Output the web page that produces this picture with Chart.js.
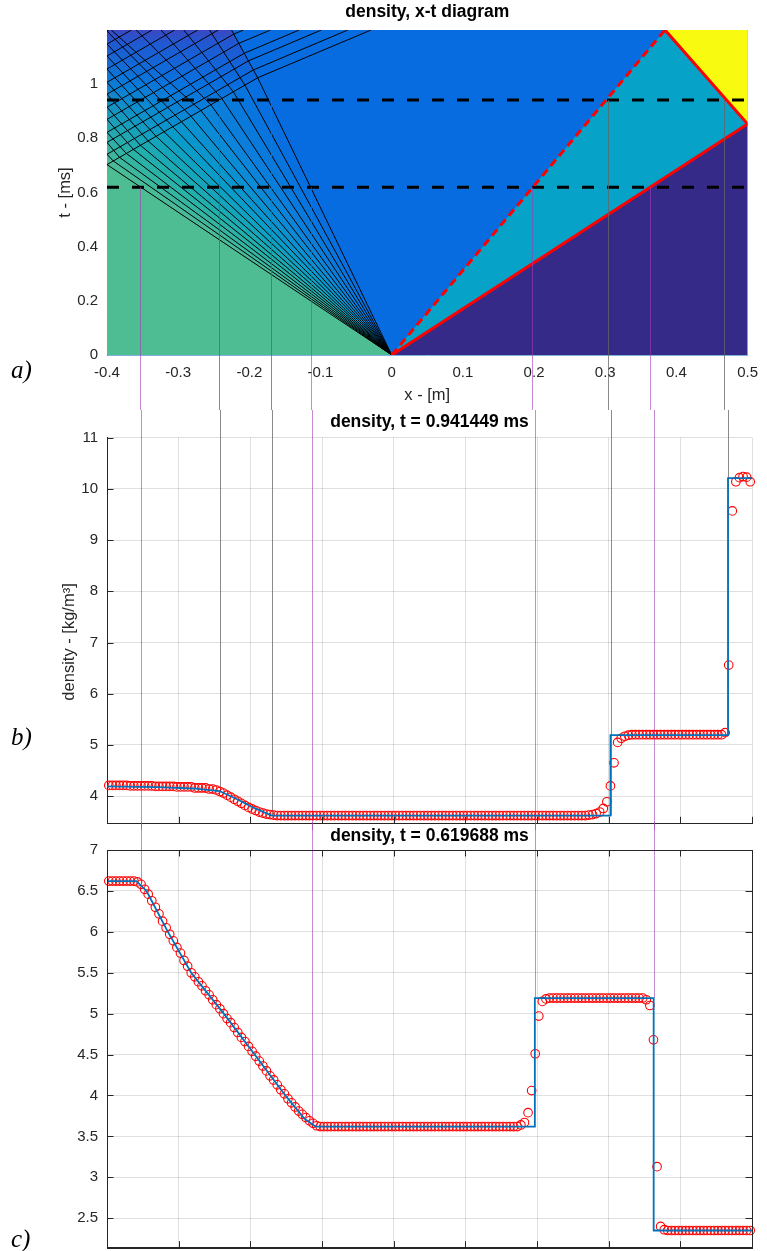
<!DOCTYPE html>
<html><head><meta charset="utf-8">
<script src="https://cdn.jsdelivr.net/npm/chart.js@4.4.0/dist/chart.umd.min.js"></script>
<style>
html,body{margin:0;padding:0;background:#fff;}
body{width:767px;height:1251px;position:relative;overflow:hidden;}
canvas{position:absolute;left:0;}
.lab{position:absolute;font-family:'Liberation Serif','DejaVu Serif',serif;font-style:italic;font-size:25px;color:#000;line-height:30px;}
</style></head><body>
<canvas id="ca" width="767" height="410" style="top:0;width:767px;height:410px"></canvas>
<canvas id="cb" width="767" height="420" style="top:410px;width:767px;height:420px"></canvas>
<canvas id="cc" width="767" height="429" style="top:822px;width:767px;height:429px"></canvas>
<div class="lab" style="left:11px;top:355px">a)</div>
<div class="lab" style="left:11px;top:722px">b)</div>
<div class="lab" style="left:11px;top:1224px">c)</div>
<script>
// ===================== DATA =====================
const xCells = [
-0.3975,-0.3925,-0.3875,-0.3825,-0.3775,-0.3725,-0.3675,-0.3625,-0.3575,-0.3525,
-0.3475,-0.3425,-0.3375,-0.3325,-0.3275,-0.3225,-0.3175,-0.3125,-0.3075,-0.3025,
-0.2975,-0.2925,-0.2875,-0.2825,-0.2775,-0.2725,-0.2675,-0.2625,-0.2575,-0.2525,
-0.2475,-0.2425,-0.2375,-0.2325,-0.2275,-0.2225,-0.2175,-0.2125,-0.2075,-0.2025,
-0.1975,-0.1925,-0.1875,-0.1825,-0.1775,-0.1725,-0.1675,-0.1625,-0.1575,-0.1525,
-0.1475,-0.1425,-0.1375,-0.1325,-0.1275,-0.1225,-0.1175,-0.1125,-0.1075,-0.1025,
-0.0975,-0.0925,-0.0875,-0.0825,-0.0775,-0.0725,-0.0675,-0.0625,-0.0575,-0.0525,
-0.0475,-0.0425,-0.0375,-0.0325,-0.0275,-0.0225,-0.0175,-0.0125,-0.0075,-0.0025,
0.0025,0.0075,0.0125,0.0175,0.0225,0.0275,0.0325,0.0375,0.0425,0.0475,
0.0525,0.0575,0.0625,0.0675,0.0725,0.0775,0.0825,0.0875,0.0925,0.0975,
0.1025,0.1075,0.1125,0.1175,0.1225,0.1275,0.1325,0.1375,0.1425,0.1475,
0.1525,0.1575,0.1625,0.1675,0.1725,0.1775,0.1825,0.1875,0.1925,0.1975,
0.2025,0.2075,0.2125,0.2175,0.2225,0.2275,0.2325,0.2375,0.2425,0.2475,
0.2525,0.2575,0.2625,0.2675,0.2725,0.2775,0.2825,0.2875,0.2925,0.2975,
0.3025,0.3075,0.3125,0.3175,0.3225,0.3275,0.3325,0.3375,0.3425,0.3475,
0.3525,0.3575,0.3625,0.3675,0.3725,0.3775,0.3825,0.3875,0.3925,0.3975,
0.4025,0.4075,0.4125,0.4175,0.4225,0.4275,0.4325,0.4375,0.4425,0.4475,
0.4525,0.4575,0.4625,0.4675,0.4725,0.4775,0.4825,0.4875,0.4925,0.4975];

// numerical density at t = 0.941449 ms (red circles, panel b)
const rhoNumB = [
4.21,4.21,4.21,4.21,4.21,4.21,4.20,4.20,4.20,4.20,
4.20,4.20,4.20,4.19,4.19,4.19,4.19,4.19,4.19,4.18,
4.18,4.18,4.18,4.18,4.16,4.16,4.16,4.16,4.14,4.14,
4.12,4.09,4.06,4.02,3.98,3.94,3.90,3.86,3.82,3.78,
3.75,3.72,3.69,3.67,3.65,3.64,3.63,3.62,3.62,3.62,
3.62,3.62,3.62,3.62,3.62,3.62,3.62,3.62,3.62,3.62,
3.62,3.62,3.62,3.62,3.62,3.62,3.62,3.62,3.62,3.62,
3.62,3.62,3.62,3.62,3.62,3.62,3.62,3.62,3.62,3.62,
3.62,3.62,3.62,3.62,3.62,3.62,3.62,3.62,3.62,3.62,
3.62,3.62,3.62,3.62,3.62,3.62,3.62,3.62,3.62,3.62,
3.62,3.62,3.62,3.62,3.62,3.62,3.62,3.62,3.62,3.62,
3.62,3.62,3.62,3.62,3.62,3.62,3.62,3.62,3.62,3.62,
3.62,3.62,3.62,3.62,3.62,3.62,3.62,3.62,3.62,3.62,
3.62,3.62,3.62,3.62,3.63,3.64,3.66,3.69,3.76,3.89,
4.20,4.65,5.05,5.13,5.17,5.19,5.20,5.20,5.20,5.20,
5.20,5.20,5.20,5.20,5.20,5.20,5.20,5.20,5.20,5.20,
5.20,5.20,5.20,5.20,5.20,5.20,5.20,5.20,5.20,5.20,
5.20,5.20,5.24,6.56,9.57,10.14,10.22,10.24,10.23,10.14];

// numerical density at t = 0.619688 ms (red circles, panel c)
const rhoNumC = [
6.62,6.62,6.62,6.62,6.62,6.62,6.62,6.62,6.61,6.58,
6.52,6.46,6.38,6.30,6.22,6.13,6.05,5.97,5.89,5.81,
5.74,5.65,5.58,5.50,5.45,5.39,5.34,5.28,5.23,5.17,
5.11,5.06,5.00,4.94,4.89,4.83,4.77,4.71,4.66,4.60,
4.54,4.48,4.42,4.36,4.30,4.24,4.19,4.13,4.07,4.02,
3.96,3.91,3.86,3.81,3.77,3.73,3.69,3.66,3.63,3.62,
3.62,3.62,3.62,3.62,3.62,3.62,3.62,3.62,3.62,3.62,
3.62,3.62,3.62,3.62,3.62,3.62,3.62,3.62,3.62,3.62,
3.62,3.62,3.62,3.62,3.62,3.62,3.62,3.62,3.62,3.62,
3.62,3.62,3.62,3.62,3.62,3.62,3.62,3.62,3.62,3.62,
3.62,3.62,3.62,3.62,3.62,3.62,3.62,3.62,3.62,3.62,
3.62,3.62,3.62,3.62,3.62,3.64,3.67,3.79,4.06,4.51,
4.97,5.15,5.18,5.19,5.19,5.19,5.19,5.19,5.19,5.19,
5.19,5.19,5.19,5.19,5.19,5.19,5.19,5.19,5.19,5.19,
5.19,5.19,5.19,5.19,5.19,5.19,5.19,5.19,5.19,5.19,
5.17,5.10,4.68,3.13,2.40,2.36,2.35,2.35,2.35,2.35,
2.35,2.35,2.35,2.35,2.35,2.35,2.35,2.35,2.35,2.35,
2.35,2.35,2.35,2.35,2.35,2.35,2.35,2.35,2.35,2.35];

// exact solution (blue line)
const exactBx = [-0.4,-0.33,-0.28,-0.243,-0.22,-0.195,-0.17,0.3025,0.3025,0.4665,0.4665,0.5];
const exactBy = [4.19,4.175,4.15,4.10,3.95,3.77,3.62,3.62,5.19,5.19,10.21,10.21];
const exactCx = [-0.4,-0.359,-0.345,-0.315,-0.2825,-0.237,-0.194,-0.151,-0.125,-0.109,0.197,0.197,0.3628,0.3628,0.5];
const exactCy = [6.62,6.62,6.5,6.0,5.5,5.0,4.5,4.0,3.72,3.62,3.62,5.19,5.19,2.35,2.35];

// tick labels
const xTicks = [-0.4,-0.3,-0.2,-0.1,0,0.1,0.2,0.3,0.4,0.5];
const tTicks = [0,0.2,0.4,0.6,0.8,1];
const yTicksB = [4,5,6,7,8,9,10,11];
const yTicksC = [2.5,3,3.5,4,4.5,5,5.5,6,6.5,7];

// x-t diagram
const tSnap = [0.941449, 0.619688];
const fanSlopes = [-0.569,-0.546,-0.524,-0.501,-0.478,-0.456,-0.433,-0.410,-0.388,-0.365,-0.343,-0.320,-0.297,-0.275,-0.252,-0.229,-0.207,-0.184];
const wallHitT = [0.703,0.741,0.785,0.822,0.870,0.915,0.963,1.007,1.056,1.104,1.148,1.196];
const fanTopX = [-0.394,-0.359,-0.324,-0.292,-0.256,-0.225];
const reflHeadX = [-0.4,-0.188,-0.029];
const reflHeadT = [0.703,1.024,1.2];
const reflSlope = [0.66, 0.9];
const contactX = [0, 0.384], contactT = [0, 1.2];
const shockX = [0, 0.5, 0.384], shockT = [0, 0.853, 1.2];
const domainX = [-0.4, 0.5], domainT = [0, 1.2];

// connector lines
const grayX = [-0.243,-0.170,0.3035,0.4665];
const grayEndB = [4.10,3.62,3.62,5.19];
const purpleX = [-0.353,-0.114,0.197,0.3628];
const purpleEndC = [6.62,3.66,5.19,5.19];

// ===================== STYLE / HELPERS =====================
Chart.defaults.font.family = "'Liberation Sans', Arial, Helvetica, sans-serif";
Chart.defaults.color = '#262626';
const fmt = v => String(Math.round(v*1000)/1000);
const GRAY = 'rgba(100,100,100,0.75)', PURPLE = 'rgba(160,60,180,0.6)';
const gridCol = 'rgba(38,38,38,0.15)';
const pts = (xs, ys) => xs.map((x,i)=>({x, y: ys[i]}));
const setTicks = arr => s => { s.ticks = arr.map(v=>({value:v})); };

const connectorPlugin = {
  id: 'connectors',
  beforeDatasetsDraw(chart, args, o) { if (o.when === 'before') drawConn(chart, o); },
  afterDatasetsDraw(chart, args, o) { if (o.when === 'after') drawConn(chart, o); }
};
function drawConn(chart, o) {
  const ctx = chart.ctx, xs = chart.scales.x, ys = chart.scales.y;
  ctx.save(); ctx.lineWidth = 1;
  for (const c of o.lines) {
    const px = Math.round(xs.getPixelForValue(c.x)) + 0.5;
    const y0 = c.from === 'top' ? 0 : ys.getPixelForValue(c.from);
    const y1 = c.to === 'bottom' ? chart.height : ys.getPixelForValue(c.to);
    ctx.strokeStyle = c.color; ctx.beginPath(); ctx.moveTo(px, y0); ctx.lineTo(px, y1); ctx.stroke();
  }
  ctx.restore();
}
const inTicksPlugin = {
  id: 'inTicks',
  afterDatasetsDraw(chart, args, o) {
    if (!o.sides) return;
    const ctx = chart.ctx, a = chart.chartArea, xs = chart.scales.x, ys = chart.scales.y, L = o.len;
    ctx.save(); ctx.strokeStyle = '#262626'; ctx.lineWidth = 1; ctx.beginPath();
    for (const t of xs.ticks) {
      const p = Math.round(xs.getPixelForValue(t.value)) + 0.5;
      if (o.sides.includes('bottom')) { ctx.moveTo(p, a.bottom); ctx.lineTo(p, a.bottom - L); }
      if (o.sides.includes('top')) { ctx.moveTo(p, a.top); ctx.lineTo(p, a.top + L); }
    }
    for (const t of ys.ticks) {
      const p = Math.round(ys.getPixelForValue(t.value)) + 0.5;
      if (o.sides.includes('left')) { ctx.moveTo(a.left, p); ctx.lineTo(a.left + L, p); }
      if (o.sides.includes('right')) { ctx.moveTo(a.right, p); ctx.lineTo(a.right - L, p); }
    }
    ctx.stroke();
    if (o.box) { ctx.strokeRect(Math.round(a.left)+0.5, Math.round(a.top)+0.5, Math.round(a.right-a.left), Math.round(a.bottom-a.top)); }
    ctx.restore();
  }
};

// ===================== x-t diagram geometry =====================
const XL = domainX[0], XR = domainX[1], TT = domainT[1];
const O = {x:0, y:0};
const hs = (reflHeadX[1]-reflHeadX[0])/(reflHeadT[1]-reflHeadT[0]);
const fanP = fanSlopes.map(s => { const t = (XL - hs*reflHeadT[0])/(s - hs); return {x: s*t, y: t}; });
const fanE = fanSlopes.map((s,i) => i < wallHitT.length
  ? {x: XL, y: wallHitT[i], wall: true}
  : {x: fanTopX[i - wallHitT.length], y: TT, wall: false});
const nF = fanSlopes.length;
const tailP = fanP[nF-1], tailTop = fanE[nF-1];
const tailS = (tailTop.x - tailP.x)/(tailTop.y - tailP.y);
function reflected(W) {
  const a = reflSlope[0];
  const t = (tailP.x - tailS*tailP.y - W.x + a*W.y)/(a - tailS);
  const out = [{x:W.x, y:W.y}];
  if (t > tailP.y && t < TT) {
    const B = {x: W.x + a*(t - W.y), y: t};
    out.push(B, {x: B.x + reflSlope[1]*(TT - t), y: TT});
  } else out.push({x: W.x + a*(TT - W.y), y: TT});
  return out;
}
const fanStops = [[78,189,148],[34,176,170],[10,156,200],[12,130,218],[6,108,224]];
function fanColor(f) {
  const p = f*(fanStops.length-1), i = Math.min(Math.floor(p), fanStops.length-2), r = p - i;
  const a = fanStops[i], b = fanStops[i+1];
  return 'rgb(' + a.map((v,j)=>Math.round(v + (b[j]-v)*r)).join(',') + ')';
}
const poly = (data, color, order) => ({data, fill:'shape', backgroundColor: color, borderColor:'rgba(0,0,0,0)', borderWidth:0, pointRadius:0, order, clip:0});
const line = (data, color, width, dash, order) => ({data, fill:false, borderColor: color, borderWidth: width, borderDash: dash || [], pointRadius:0, order, spanGaps:false, clip:0});

const dsA = [];
dsA.push(poly([{x:XL,y:0},{x:XR,y:0},{x:XR,y:TT},{x:XL,y:TT}], 'rgb(6,108,224)', 100));
dsA.push(poly([{x:XL,y:0},{x:0,y:0},{x:XL,y:reflHeadT[0]}], 'rgb(78,189,148)', 95));
for (let k = 0; k < nF-1; k++) {
  const P = [O, fanP[k], fanE[k]];
  if (fanE[k].wall && !fanE[k+1].wall) P.push({x:XL, y:TT});
  P.push(fanE[k+1], fanP[k+1]);
  dsA.push(poly(P.map(p=>({x:p.x,y:p.y})), fanColor((k+0.5)/(nF-1)), 90));
}
dsA.push(poly([{x:reflHeadX[0],y:reflHeadT[0]},{x:reflHeadX[1],y:reflHeadT[1]},{x:tailTop.x,y:tailTop.y},{x:XL,y:TT}], (c) => {
  const ch = c.chart, ys = ch.scales && ch.scales.y;
  if (!ys) return 'rgba(0,0,0,0)';
  const y0 = ys.getPixelForValue(1.2), y1 = ys.getPixelForValue(0.72);
  if (!isFinite(y0) || !isFinite(y1) || y0 === y1) return 'rgba(0,0,0,0)';
  const g = ch.ctx.createLinearGradient(0, y0, 0, y1);
  g.addColorStop(0, 'rgba(58,72,194,1)'); g.addColorStop(0.1, 'rgba(34,86,208,0.95)');
  g.addColorStop(0.4, 'rgba(10,105,222,0.7)'); g.addColorStop(0.7, 'rgba(10,120,215,0.3)');
  g.addColorStop(1, 'rgba(20,150,200,0)'); return g; }, 85));
dsA.push(poly(pts([contactX[0], shockX[1], contactX[1]], [0, shockT[1], contactT[1]]), 'rgb(6,162,200)', 80));
dsA.push(poly([{x:0,y:0},{x:XR,y:0},{x:XR,y:shockT[1]}], 'rgb(53,42,135)', 80));
dsA.push(poly([{x:XR,y:shockT[1]},{x:XR,y:TT},{x:shockX[2],y:TT}], 'rgb(248,250,15)', 80));
// characteristics
const chr = [];
for (let k = 0; k < nF; k++) { chr.push({x:0,y:0}, {x:fanP[k].x,y:fanP[k].y}, {x:fanE[k].x,y:fanE[k].y}, {x:null,y:null}); }
chr.push(...pts(reflHeadX, reflHeadT), {x:null,y:null});
for (let k = 1; k < nF; k++) if (fanE[k].wall) { chr.push(...reflected(fanE[k]), {x:null,y:null}); }
dsA.push(line(chr, '#000', 1, null, 30));
dsA.push(line([{x:XL,y:tSnap[0]},{x:XR,y:tSnap[0]}], '#000', 3, [12,13], 20));
dsA.push(line([{x:XL,y:tSnap[1]},{x:XR,y:tSnap[1]}], '#000', 3, [12,13], 20));
dsA.push(line(pts(contactX, contactT), '#ff0000', 3, [8,5], 10));
dsA.push(line(pts(shockX, shockT), '#ff0000', 3, null, 10));

const baseOpts = { responsive:false, animation:false, devicePixelRatio:1, events:[] };
const tickFont = {size:15};
const yFit = s => { s.width = 107; s.paddingTop = 0; s.paddingBottom = 0; };

new Chart(document.getElementById('ca'), {
  type:'line', data:{datasets: dsA},
  options: { ...baseOpts,
    layout:{padding:{left:0,right:14,top:0,bottom:0}},
    plugins:{ legend:{display:false}, tooltip:{enabled:false},
      title:{display:true, text:'density, x-t diagram', fullSize:false, color:'#000', font:{size:17.5, weight:'bold'}, padding:{top:1.5,bottom:7.5}},
      connectors:{when:'after', lines:[
        ...grayX.map(x=>({x, from:tSnap[0], to:'bottom', color:GRAY})),
        ...purpleX.map(x=>({x, from:tSnap[1], to:'bottom', color:PURPLE}))]} },
    scales:{
      x:{type:'linear', min:domainX[0], max:domainX[1], afterBuildTicks:setTicks(xTicks), afterFit:s=>{s.height=55;},
        grid:{display:false, drawTicks:false}, border:{display:true, color:'#7fb3de'},
        ticks:{padding:9, font:tickFont, maxRotation:0, autoSkip:false, callback:fmt},
        title:{display:true, text:'x - [m]', font:{size:16.5}, padding:{top:0,bottom:5}}},
      y:{type:'linear', min:domainT[0], max:domainT[1], afterBuildTicks:setTicks(tTicks), afterFit:yFit,
        grid:{display:false, drawTicks:false}, border:{display:true, color:'#808080'},
        ticks:{padding:9, font:tickFont, autoSkip:false, callback:fmt},
        title:{display:true, text:'t - [ms]', font:{size:16.5}, padding:{top:56,bottom:0}}}
    } },
  plugins:[connectorPlugin]
});

function profileChart(id, title, num, exX, exY, yMin, yMax, yTicks, topPad, botPad, xH, yTitle, conn, tickSides, box) {
  return new Chart(document.getElementById(id), {
    type:'line',
    data:{datasets:[
      {data: pts(exX, exY), borderColor:'#0072bd', borderWidth:1.8, pointRadius:0, fill:false, order:1, clip:0},
      {data: pts(xCells, num), showLine:false, pointRadius:4.3, pointBorderWidth:1.1, pointBorderColor:'#ff0000', pointBackgroundColor:'rgba(0,0,0,0)', fill:false, order:2, clip:8}
    ]},
    options:{ ...baseOpts,
      layout:{padding:{left:0,right:15,top:0,bottom:0}, autoPadding:false},
      plugins:{ legend:{display:false}, tooltip:{enabled:false},
        title:{display:true, text:title, fullSize:false, color:'#000', font:{size:17.5, weight:'bold'}, padding:{top:topPad,bottom:botPad}},
        connectors:{when:'before', lines:conn},
        inTicks:{sides:tickSides, len:6.5, box} },
      scales:{
        x:{type:'linear', min:domainX[0], max:domainX[1], afterBuildTicks:setTicks(xTicks), afterFit:s=>{s.height=xH;},
          grid:{color:gridCol, drawTicks:false}, border:{display:true, color:'#262626'}, ticks:{display:false}},
        y:{type:'linear', min:yMin, max:yMax, afterBuildTicks:setTicks(yTicks), afterFit:yFit,
          grid:{color:gridCol, drawTicks:false}, border:{display:true, color:'#262626'},
          ticks:{padding:9, font:tickFont, autoSkip:false, callback:fmt},
          title: yTitle ? {display:true, text:yTitle, font:{size:16.5}, padding:{top:60,bottom:0}} : {display:false}}
      } },
    plugins:[connectorPlugin, inTicksPlugin]
  });
}

profileChart('cb', 'density, t = 0.941449 ms', rhoNumB, exactBx, exactBy, 3.47, 11, yTicksB, 2, 4.7, 6.7,
  'density - [kg/m³]     ',
  [...grayX.map((x,i)=>({x, from:'top', to:grayEndB[i], color:GRAY})), ...purpleX.map(x=>({x, from:'top', to:'bottom', color:PURPLE}))],
  ['left','bottom'], false);

profileChart('cc', 'density, t = 0.619688 ms', rhoNumC, exactCx, exactCy, 2.14, 7, yTicksC, 3.5, 3.5, 3.3,
  null,
  purpleX.map((x,i)=>({x, from:'top', to:purpleEndC[i], color:PURPLE})),
  ['left','bottom','top','right'], true);
</script>
</body></html>
